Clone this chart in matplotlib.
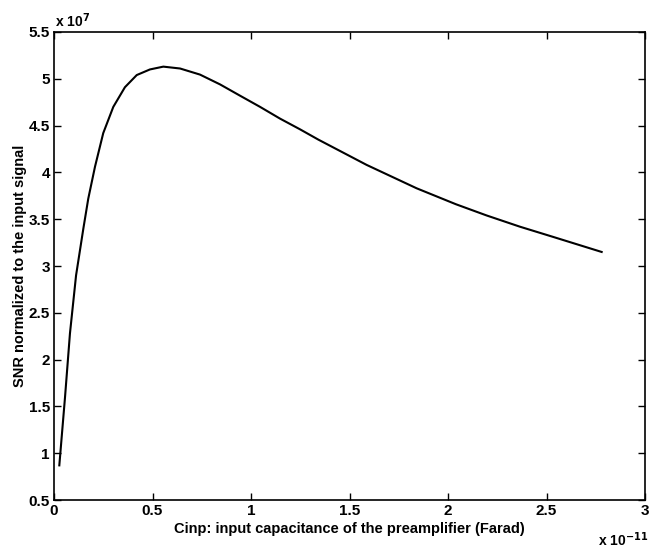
import matplotlib
matplotlib.use('Agg')
import matplotlib.pyplot as plt
from matplotlib.ticker import FuncFormatter

# values (x in 1e-11 F, y in 1e7)
cinp = [0.027, 0.056, 0.081, 0.112, 0.149, 0.174, 0.208, 0.250, 0.301, 0.360,
        0.420, 0.487, 0.555, 0.640, 0.741, 0.843, 0.944, 1.046, 1.147, 1.249,
        1.342, 1.587, 1.841, 2.040, 2.196, 2.365, 2.535, 2.780]
snr = [0.87, 1.60, 2.28, 2.90, 3.40, 3.72, 4.06, 4.42, 4.70, 4.91,
       5.04, 5.10, 5.13, 5.11, 5.045, 4.94, 4.82, 4.70, 4.575, 4.46,
       4.35, 4.08, 3.83, 3.66, 3.54, 3.42, 3.31, 3.15]

xticks = [0, 0.5, 1, 1.5, 2, 2.5, 3]
yticks = [0.5, 1, 1.5, 2, 2.5, 3, 3.5, 4, 4.5, 5, 5.5]

plt.rcParams['font.family'] = ['Liberation Sans', 'DejaVu Sans']
plt.rcParams['font.weight'] = 'bold'
plt.rcParams['mathtext.default'] = 'bf'

fig = plt.figure(figsize=(6.49, 5.5), dpi=100)
ax = fig.add_axes([54 / 649, 1 - 500 / 550, 591 / 649, 468 / 550])

ax.plot(cinp, snr, color='black', lw=1.5)

ax.set_xlim(0, 3)
ax.set_ylim(0.5, 5.5)
ax.set_xticks(xticks)
ax.set_yticks(yticks)
fmt = FuncFormatter(lambda v, p: '%g' % v)
ax.xaxis.set_major_formatter(fmt)
ax.yaxis.set_major_formatter(fmt)
ax.tick_params(direction='in', length=5, width=1, top=True, right=True,
               labelsize=11, pad=3)
for lab in ax.get_xticklabels() + ax.get_yticklabels():
    lab.set_fontweight('bold')
for s in ax.spines.values():
    s.set_linewidth(1.2)

ax.set_xlabel('Cinp: input capacitance of the preamplifier (Farad)',
              fontsize=10.5, fontweight='bold', labelpad=3)
ax.set_ylabel('SNR normalized to the input signal',
              fontsize=10.5, fontweight='bold', labelpad=1)

fig.text(55 / 649, 1 - 27 / 550, r'x 10$^{7}$', fontsize=10, fontweight='bold',
         ha='left', va='baseline')
fig.text(598 / 649, 1 - 546 / 550, r'x 10$^{-11}$', fontsize=10,
         fontweight='bold', ha='left', va='baseline')

fig.savefig('out.png', dpi=100)
